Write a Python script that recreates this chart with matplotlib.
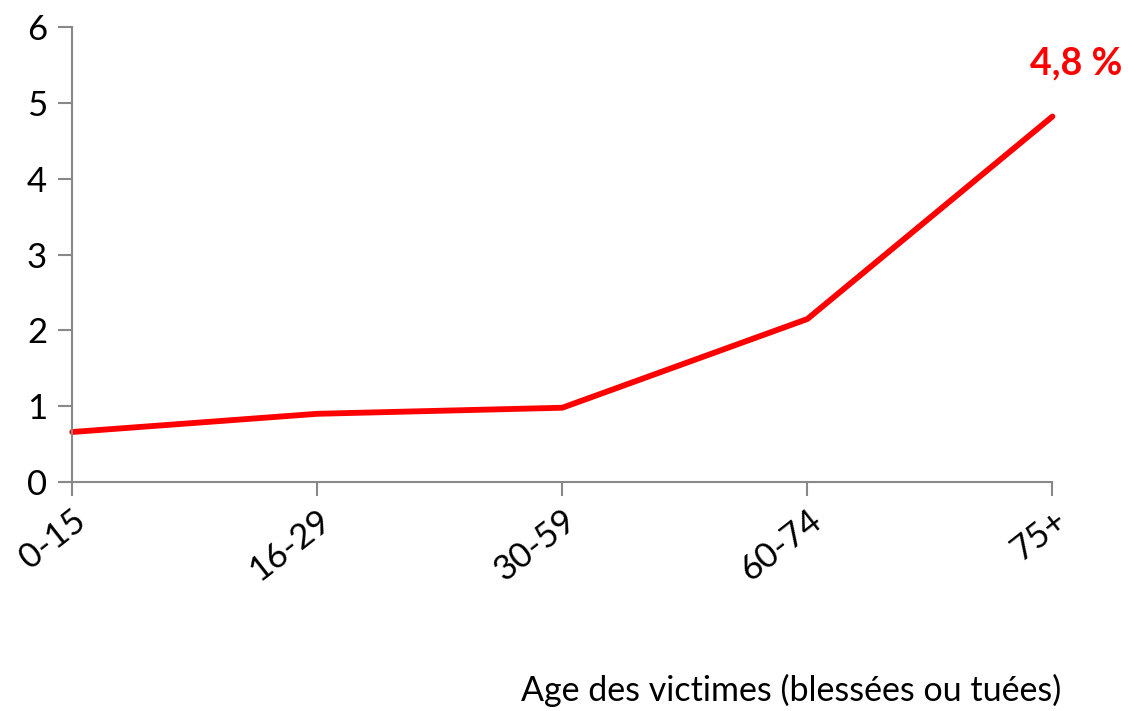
import matplotlib.pyplot as plt

plt.rcParams['font.family'] = ['Lato', 'DejaVu Sans']

# Data
ages = ['0-15', '16-29', '30-59', '60-74', '75+']
values = [0.66, 0.90, 0.98, 2.15, 4.82]
last_label = '4,8 %'

fig = plt.figure(figsize=(11.28, 7.11), dpi=100)
ax = fig.add_axes([0.064, 0.322, 0.869, 0.64])

x = range(len(ages))
ax.plot(x, values, color='#ff0000', linewidth=4.2, solid_capstyle='round', clip_on=False)

ax.set_xlim(0, len(ages) - 1)
ax.set_ylim(0, 6)
ax.set_yticks(range(0, 7))
ax.set_xticks(list(x))
ax.set_xticklabels(ages, rotation=38, ha='right', rotation_mode='anchor')

for side in ['top', 'right']:
    ax.spines[side].set_visible(False)
for side in ['left', 'bottom']:
    ax.spines[side].set_color('#888888')
    ax.spines[side].set_linewidth(1.5)

ax.tick_params(axis='both', colors='#888888', width=1.5, length=10, labelsize=25, labelcolor='black')
ax.tick_params(axis='y', pad=8)
ax.tick_params(axis='x', pad=6)

ax.annotate(last_label, xy=(x[-1], values[-1]), xytext=(17, 26), textcoords='offset points',
            ha='center', va='bottom', color='#ff0000', fontsize=27, fontweight='bold',
            annotation_clip=False)

fig.text(0.941, 0.006, 'Age des victimes (blessées ou tuées)', ha='right', va='bottom',
         fontsize=24.5)

fig.savefig('out.png', dpi=100)
